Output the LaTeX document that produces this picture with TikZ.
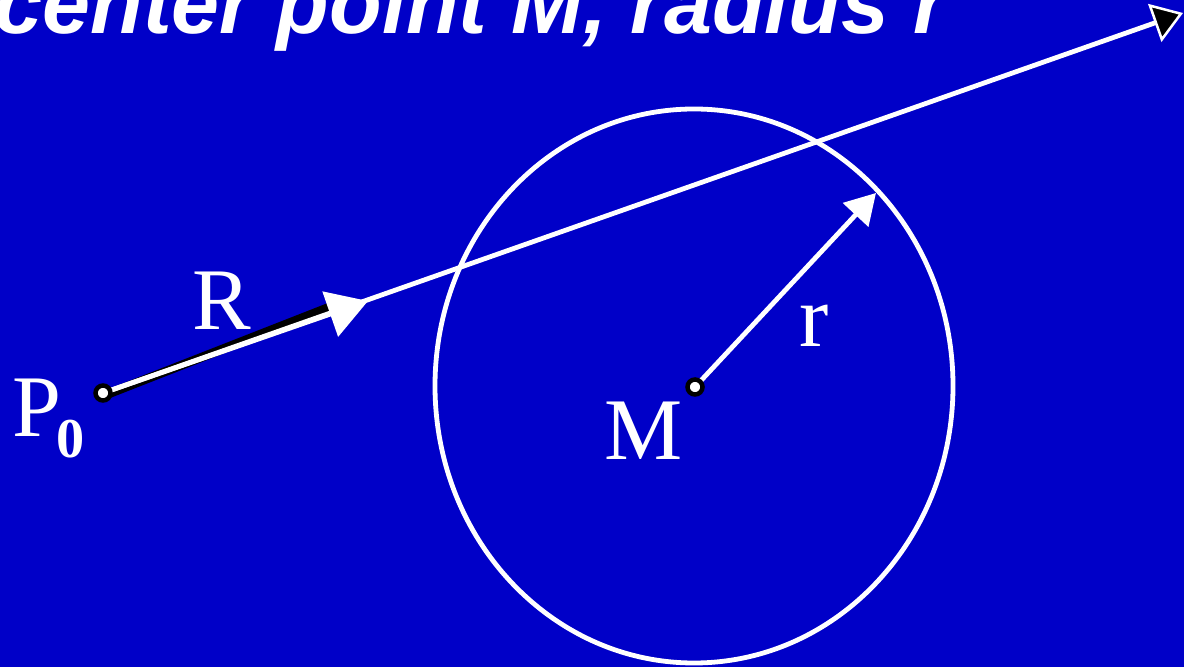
\documentclass[tikz,border=0pt]{standalone}
\usepackage{fontspec}
\setmainfont{Liberation Serif}
\newfontfamily\titlefont{Liberation Sans}
\usepackage{xcolor}
\usepackage{tikz}
\usetikzlibrary{arrows.meta}
\definecolor{SlideBlue}{HTML}{0000C8}
\definecolor{SlideWhite}{HTML}{FFFFFF}

\tikzset{
  dotpoint/.style={circle, draw=black, fill=SlideWhite, line width=0.045cm,
    minimum size=0.15cm, inner sep=0pt},
  whiteline/.style={SlideWhite, line width=0.048cm},
  bigletter/.style={SlideWhite, inner sep=0pt, anchor=base,
    font=\fontsize{25}{30}\selectfont}
}

\begin{document}
\begin{tikzpicture}
  \useasboundingbox (0,0) rectangle (11.84,6.67);
  \clip (0,0) rectangle (11.84,6.67);
  \fill[SlideBlue] (0,0) rectangle (11.84,6.67);

  % title, cut at the top edge
  \node[SlideWhite, inner sep=0pt, anchor=base west,
    font=\titlefont\bfseries\itshape\fontsize{24.5}{29}\selectfont]
    (title) at (-0.06,6.33) {center point M, radius r};

  % points
  \coordinate (p0) at (1.03,2.74);
  \coordinate (m) at (6.95,2.80);
  \coordinate (rayend) at (11.83,6.54);
  \coordinate (rtip) at (3.68,3.66);
  \coordinate (rblack) at (3.30,3.60);
  \coordinate (rim) at (8.76,4.74);

  % circle
  \draw[whiteline] (6.94,2.81) ellipse [x radius=2.59, y radius=2.77];

  % R vector with its shadow
  \draw[black, line width=0.09cm] ([yshift=-0.03cm]p0) -- (rblack);
  \draw[whiteline, -{Triangle[length=0.30cm, width=0.40cm, fill=black,
      line width=0.025cm]}] (p0) -- (rayend);
  \draw[whiteline, -{Triangle[length=0.40cm, width=0.47cm]}] (p0) -- (rtip);

  % radius
  \draw[whiteline, -{Triangle[length=0.30cm, width=0.34cm]}] (m) -- (rim);

  \node[dotpoint] (p0dot) at (p0) {};
  \node[dotpoint] (mdot) at (m) {};

  % labels
  \node[bigletter] (labelR) at (2.22,3.37) {R};
  \node[bigletter, anchor=base west] (labelP) at (0.12,2.30)
    {P\kern-0.05cm\raisebox{-0.21cm}{\fontsize{16}{16}\selectfont\bfseries 0}};
  \node[bigletter] (labelM) at (6.44,2.07) {M};
  \node[bigletter] (labelr) at (8.14,3.20) {r};
\end{tikzpicture}
\end{document}
